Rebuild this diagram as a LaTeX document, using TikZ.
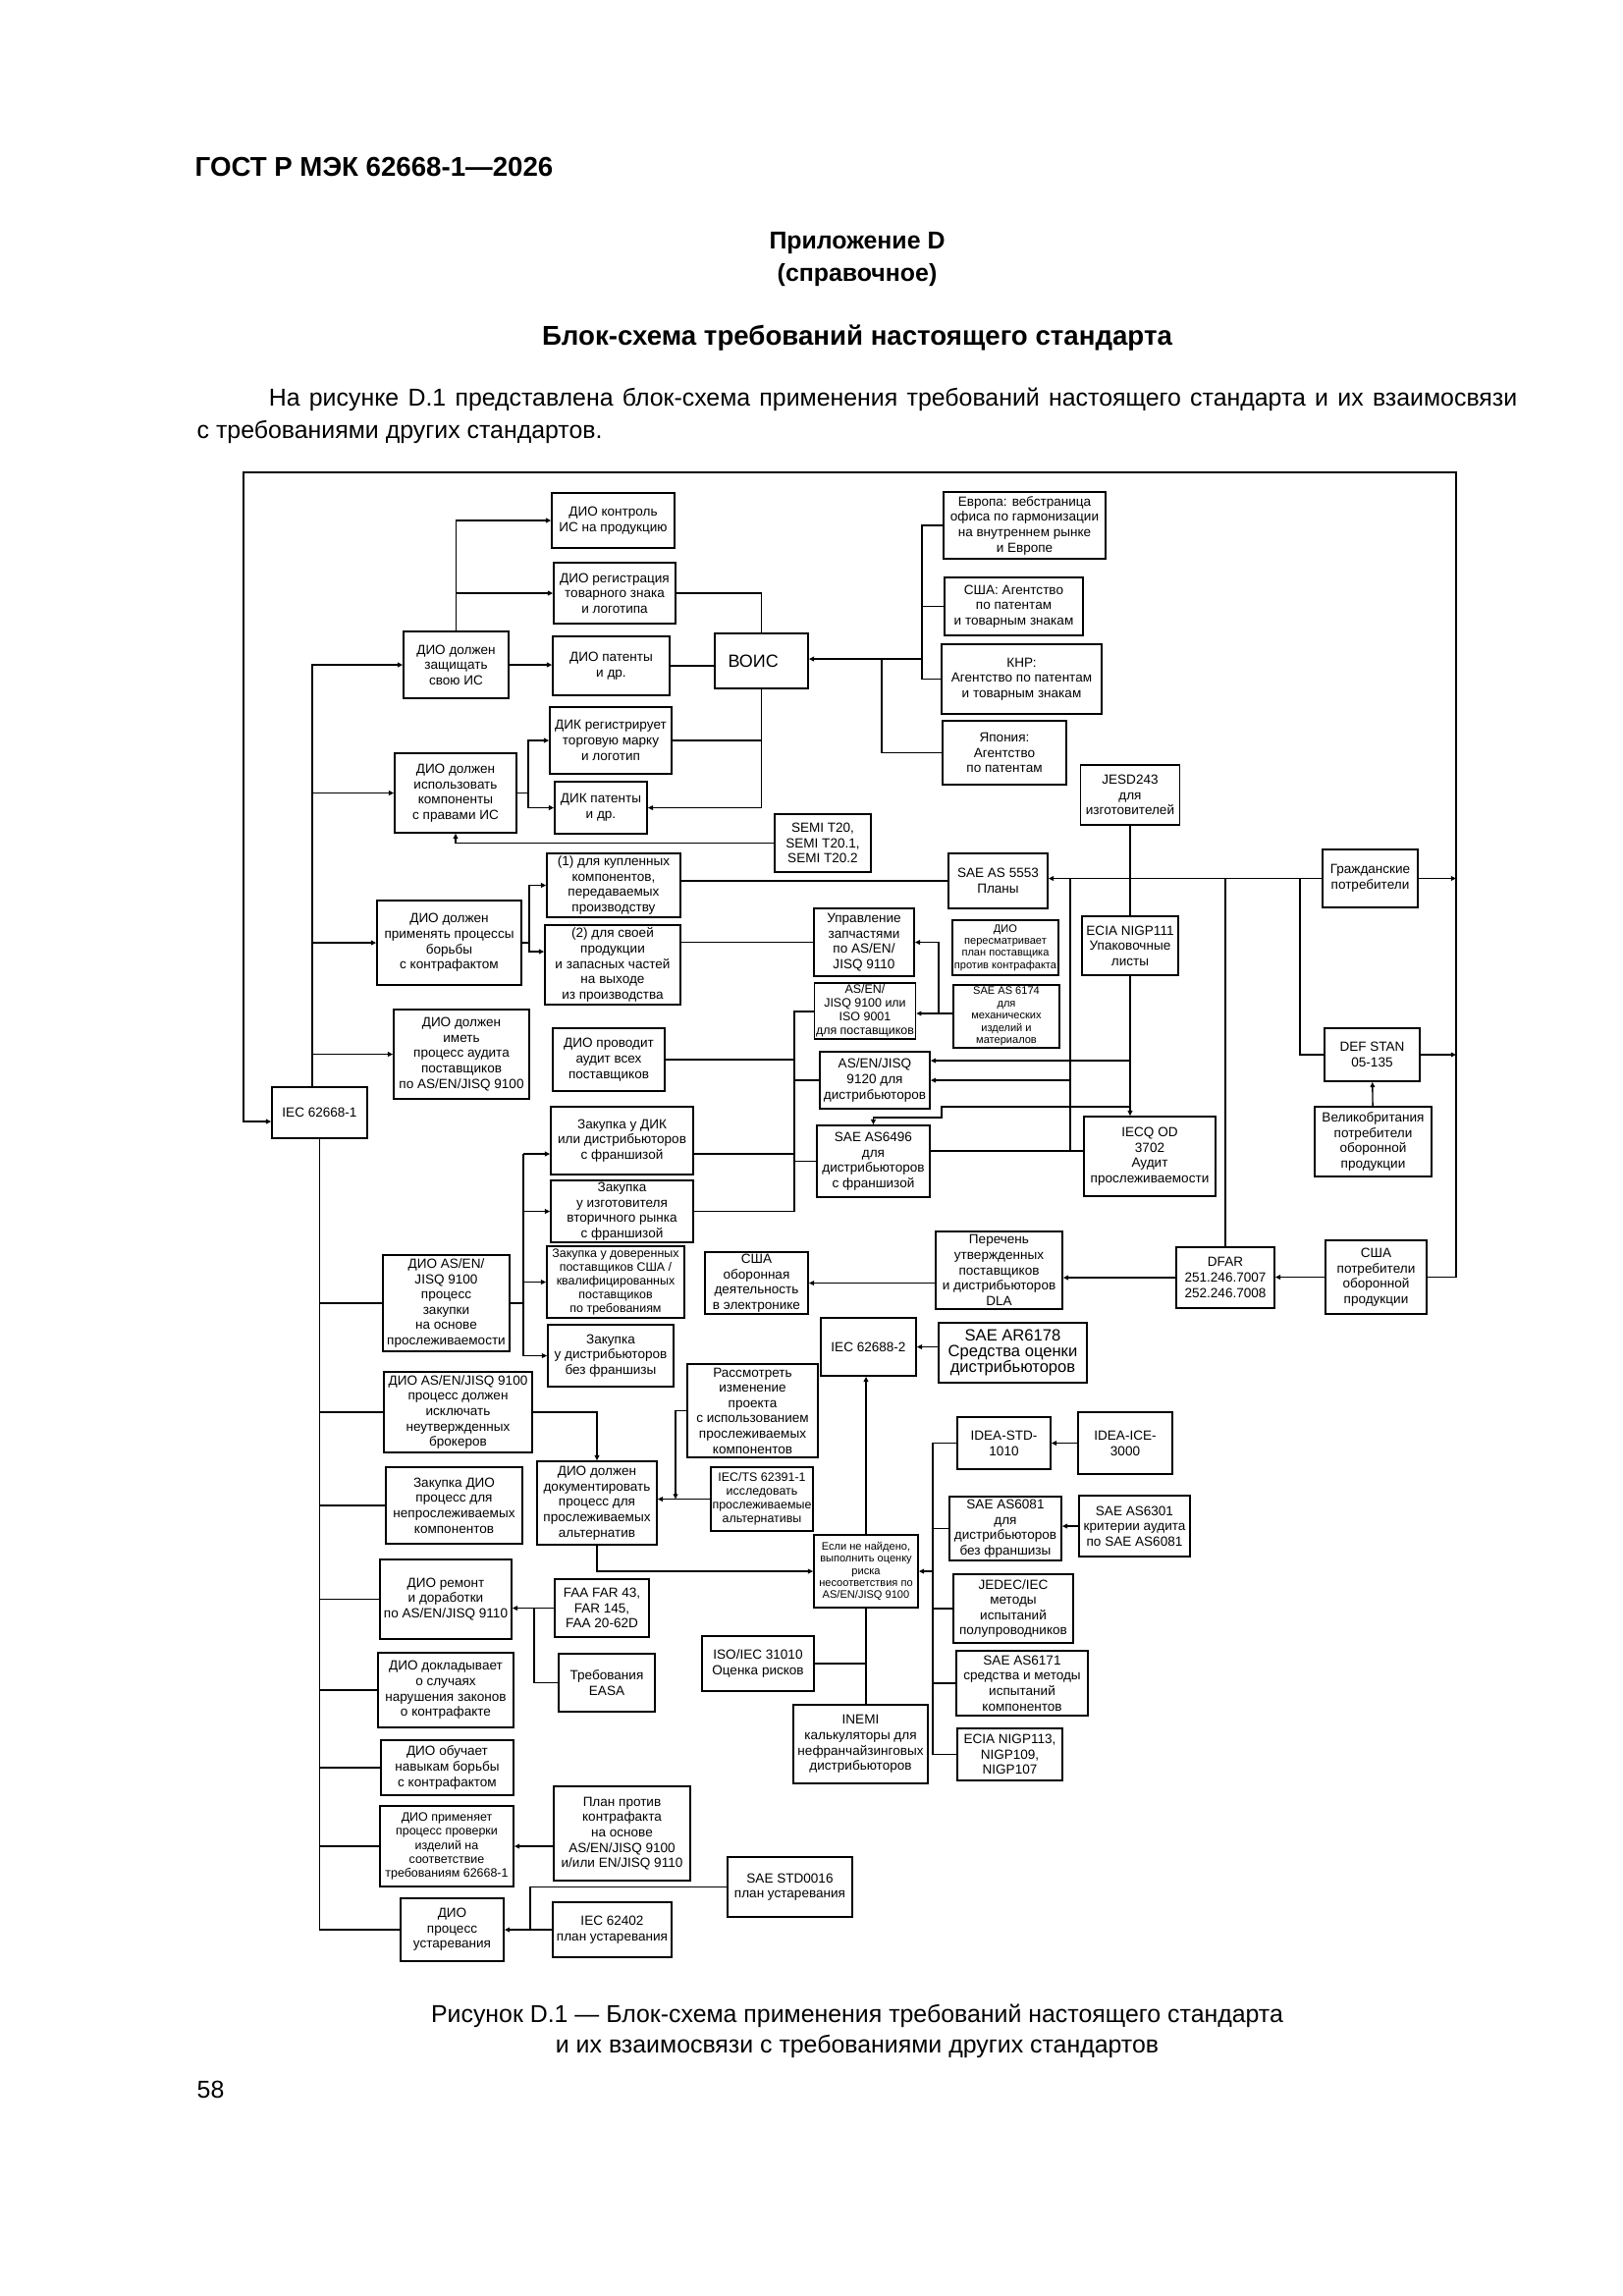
\documentclass[tikz,border=0pt]{standalone}
\usepackage{fontspec}
\setmainfont{Liberation Sans}
\usepackage{tikz}
\usetikzlibrary{positioning,calc,arrows.meta}
\newdimen\px \px=0.012704cm

\begin{document}
\begin{tikzpicture}[x=0.012704cm, y=-0.012704cm,
    box/.style={draw, line width=0.6pt, align=center, inner sep=0.5pt, font=\fontsize{4.9}{5.65}\selectfont},
    sz/.style 2 args={minimum width=#1\px, minimum height=#2\px},
    tinytxt/.style={font=\fontsize{4}{4.5}\selectfont},
    smalltxt/.style={font=\fontsize{4.5}{5.1}\selectfont},
    wire/.style={line width=0.5pt},
    arr/.style={wire, -{Triangle[length=1.9pt,width=1.7pt]}},
    every path/.append style={line width=0.5pt}]
    \useasboundingbox (0,0) rectangle (1653,2338);

    % page text
    \node[anchor=west, inner sep=0pt, font=\fontsize{10}{12}\selectfont\bfseries] (gost) at (198,170) {ГОСТ Р МЭК 62668-1—2026};
    \node[font=\fontsize{9}{11}\selectfont\bfseries] (pril) at (873,248) {Приложение D};
    \node[font=\fontsize{9}{11}\selectfont\bfseries] (sprav) at (873,280) {(справочное)};
    \node[font=\fontsize{10}{12}\selectfont\bfseries] (title) at (873,344) {Блок-схема требований настоящего стандарта};
    \node[anchor=north west, text width=17.09cm, align=justify, inner sep=0pt, font=\fontsize{9}{11.9}\selectfont] (intro) at (200,394)
        {\hspace*{0.93cm}На рисунке D.1 представлена блок-схема применения требований настоящего стандарта и их взаимосвязи\linebreak с~требованиями других стандартов.};
    \node[align=center, font=\fontsize{9}{11.3}\selectfont] (cap) at (873,2068)
        {Рисунок D.1 — Блок-схема применения требований настоящего стандарта\\и их взаимосвязи с требованиями других стандартов};
    \node[anchor=west, inner sep=0pt, font=\fontsize{9}{11}\selectfont] (page) at (200,2128) {58};

    % IP protection
    \node[box, sz={125}{56}] (kontrol) at (624.5,530) {ДИО контроль\\ИС на продукцию};
    \node[box, sz={124}{62}] (registr) at (626,604) {ДИО регистрация\\товарного знака\\и логотипа};
    \node[box, sz={107}{68}] (zashch) at (464.5,677) {ДИО должен\\защищать\\свою ИС};
    \node[box, sz={119}{60}] (patent) at (622.5,678) {ДИО патенты\\и др.};
    \node[box, sz={95}{56}, font=\fontsize{6.5}{7.5}\selectfont] (vois) at (775.5,673) {ВОИС\hspace*{6pt}};
    \node[box, sz={124}{68}] (dikreg) at (622,754) {ДИК регистрирует\\торговую марку\\и логотип};
    \node[box, sz={94}{53}] (dikpat) at (612,822.5) {ДИК патенты\\и др.};
    \node[box, sz={124}{81}] (ispolz) at (464,807.5) {ДИО должен\\использовать\\компоненты\\с правами ИС};
    \node[box, sz={165}{68}] (evropa) at (1043.5,535) {Европа: вебстраница\\офиса по гармонизации\\на внутреннем рынке\\и Европе};
    \node[box, sz={141}{59}] (usapat) at (1032.5,617.5) {США: Агентство\\по патентам\\и товарным знакам};
    \node[box, sz={163}{71}] (knr) at (1040.5,691.5) {КНР:\\Агентство по патентам\\и товарным знакам};
    \node[box, sz={126}{65}] (japan) at (1023,766.5) {Япония:\\Агентство\\по патентам};
    \node[box, sz={98}{59}] (semi) at (838,858.5) {SEMI T20,\\SEMI T20.1,\\SEMI T20.2};

    % counterfeit and suppliers
    \node[box, sz={101}{61}] (jesd) at (1151,809.5) {JESD243\\для\\изготовителей};
    \node[box, sz={136}{65}] (buy1) at (625,901.5) {(1) для купленных\\компонентов,\\передаваемых\\производству};
    \node[box, sz={138}{81}] (buy2) at (624,982.5) {(2) для своей\\продукции\\и запасных частей\\на выходе\\из производства};
    \node[box, sz={147}{86}] (primen) at (457.5,960) {ДИО должен\\применять процессы\\борьбы\\с контрафактом};
    \node[box, sz={138}{91}] (imet) at (470,1073.5) {ДИО должен\\иметь\\процесс аудита\\поставщиков\\по AS/EN/JISQ 9100};
    \node[box, sz={114}{64}] (provod) at (620,1079) {ДИО проводит\\аудит всех\\поставщиков};
    \node[box, sz={97}{52}] (iec1) at (325.5,1133) {IEC 62668-1};
    \node[box, sz={101}{56}] (sae5553) at (1016.5,897) {SAE AS 5553\\Планы};
    \node[box, sz={102}{69}] (zapch) at (880,959.5) {Управление\\запчастями\\по AS/EN/\\JISQ 9110};
    \node[box, sz={100}{57}, smalltxt] (asen) at (881,1029.5) {AS/EN/\\JISQ 9100 или\\ISO 9001\\для поставщиков};
    \node[box, sz={108}{56}, tinytxt] (peresm) at (1024,965) {ДИО\\пересматривает\\план поставщика\\против контрафакта};
    \node[box, sz={108}{64}, tinytxt] (sae6174) at (1025,1035) {SAE AS 6174\\для\\механических\\изделий и\\материалов};
    \node[box, sz={112}{58}] (as9120) at (891,1100) {AS/EN/JISQ\\9120 для\\дистрибьюторов};
    \node[box, sz={115}{73}] (as6496) at (889.5,1182.5) {SAE AS6496\\для\\дистрибьюторов\\с франшизой};
    \node[box, sz={97}{59}] (grazh) at (1395.5,894.5) {Гражданские\\потребители};
    \node[box, sz={98}{60}] (ecia111) at (1151,963) {ECIA NIGP111\\Упаковочные\\листы};
    \node[box, sz={134}{81}] (iecq) at (1171,1177.5) {IECQ OD\\3702\\Аудит\\прослеживаемости};
    \node[box, sz={97}{54}] (defstan) at (1397.5,1074) {DEF STAN\\05-135};
    \node[box, sz={119}{71}] (gb) at (1398.5,1162.5) {Великобритания\\потребители\\оборонной\\продукции};

    % purchasing
    \node[box, sz={145}{69}] (zakDIK) at (633.5,1161.5) {Закупка у ДИК\\или дистрибьюторов\\с франшизой};
    \node[box, sz={145}{63}] (zakVtor) at (633.5,1233.5) {Закупка\\у изготовителя\\вторичного рынка\\с франшизой};
    \node[box, sz={140}{73}, smalltxt] (zakDov) at (627,1305.5) {Закупка у доверенных\\поставщиков США /\\квалифицированных\\поставщиков\\по требованиям};
    \node[box, sz={128}{63}] (zakBez) at (622,1380.5) {Закупка\\у дистрибьюторов\\без франшизы};
    \node[box, sz={129}{98}] (proc9100) at (454.5,1327) {ДИО AS/EN/\\JISQ 9100\\процесс\\закупки\\на основе\\прослеживаемости};
    \node[box, sz={151}{82}] (isklyuch) at (466.5,1438) {ДИО AS/EN/JISQ 9100\\процесс должен\\исключать\\неутвержденных\\брокеров};
    \node[box, sz={139}{78}] (neprosl) at (462.5,1533) {Закупка ДИО\\процесс для\\непрослеживаемых\\компонентов};
    \node[box, sz={122}{85}] (dokum) at (608,1530.5) {ДИО должен\\документировать\\процесс для\\прослеживаемых\\альтернатив};
    \node[box, sz={105}{63}] (usaobor) at (770.5,1306.5) {США\\оборонная\\деятельность\\в электронике};
    \node[box, sz={129}{79}] (perechen) at (1017.5,1293.5) {Перечень\\утвержденных\\поставщиков\\и дистрибьюторов\\DLA};
    \node[box, sz={100}{62}] (dfar) at (1248,1301) {DFAR\\251.246.7007\\252.246.7008};
    \node[box, sz={103}{75}] (usapotr) at (1401.5,1300.5) {США\\потребители\\оборонной\\продукции};

    % alternatives and risk
    \node[box, sz={97}{59}] (iec2) at (884.5,1371.5) {IEC 62688-2};
    \node[box, sz={151}{61}, font=\fontsize{6}{5.9}\selectfont] (ar6178) at (1031.5,1377.5) {SAE AR6178\\Средства оценки\\дистрибьюторов};
    \node[box, sz={133}{95}] (rassm) at (766.5,1436.5) {Рассмотреть\\изменение\\проекта\\с использованием\\прослеживаемых\\компонентов};
    \node[box, sz={104}{65}, smalltxt] (iects) at (776,1526.5) {IEC/TS 62391-1\\исследовать\\прослеживаемые\\альтернативы};
    \node[box, sz={106}{74}, tinytxt] (esli) at (882,1600) {Если не найдено,\\выполнить оценку\\риска\\несоответствия по\\AS/EN/JISQ 9100};
    \node[box, sz={95}{53}] (ideastd) at (1022.5,1469.5) {IDEA-STD-\\1010};
    \node[box, sz={96}{63}] (ideaice) at (1146,1469.5) {IDEA-ICE-\\3000};
    \node[box, sz={114}{65}] (as6081) at (1024,1556.5) {SAE AS6081\\для\\дистрибьюторов\\без франшизы};
    \node[box, sz={113}{62}] (as6301) at (1155.5,1554) {SAE AS6301\\критерии аудита\\по SAE AS6081};
    \node[box, sz={122}{70}] (jedec) at (1032,1638) {JEDEC/IEC\\методы\\испытаний\\полупроводников};
    \node[box, sz={134}{66}] (as6171) at (1041,1714) {SAE AS6171\\средства и методы\\испытаний\\компонентов};
    \node[box, sz={107}{53}] (ecia113) at (1028.5,1786.5) {ECIA NIGP113,\\NIGP109,\\NIGP107};
    \node[box, sz={114}{56}] (iso31010) at (772,1694) {ISO/IEC 31010\\Оценка рисков};
    \node[box, sz={137}{80}] (inemi) at (876.5,1776) {INEMI\\калькуляторы для\\нефранчайзинговых\\дистрибьюторов};

    % repair, reporting, obsolescence
    \node[box, sz={134}{81}] (remont) at (454,1628.5) {ДИО ремонт\\и доработки\\по AS/EN/JISQ 9110};
    \node[box, sz={96}{59}] (faa) at (613,1637.5) {FAA FAR 43,\\FAR 145,\\FAA 20-62D};
    \node[box, sz={98}{59}] (easa) at (618,1713.5) {Требования\\EASA};
    \node[box, sz={138}{76}] (doklad) at (454,1721) {ДИО докладывает\\о случаях\\нарушения законов\\о контрафакте};
    \node[box, sz={135}{56}] (obuch) at (455.5,1800) {ДИО обучает\\навыкам борьбы\\с контрафактом};
    \node[box, sz={136}{82}, smalltxt] (primproc) at (455,1880) {ДИО применяет\\процесс проверки\\изделий на\\соответствие\\требованиям 62668-1};
    \node[box, sz={139}{96}] (plan) at (633.5,1867) {План против\\контрафакта\\на основе\\AS/EN/JISQ 9100\\и/или EN/JISQ 9110};
    \node[box, sz={105}{64}] (ustar) at (460.5,1965) {ДИО\\процесс\\устаревания};
    \node[box, sz={121}{56}] (iec62402) at (623.5,1965) {IEC 62402\\план устаревания};
    \node[box, sz={127}{61}] (std0016) at (804.5,1921.5) {SAE STD0016\\план устаревания};

    % junction points
    \coordinate (trT) at (318,674);
    \coordinate (frTR) at (1483,481);
    \coordinate (frTL) at (248,481);
    \coordinate (frIn) at (248,1142);
    \coordinate (fkI) at (538,807.5);
    \coordinate (fkP) at (539,902);
    \coordinate (fkP2) at (539,969);
    \coordinate (ag) at (939,671);
    \coordinate (jp) at (898,671);
    \coordinate (civA) at (1090,894);
    \coordinate (civB) at (1248,894);
    \coordinate (civC) at (1324,894);
    \coordinate (j6174) at (956,1032);
    \coordinate (v809) at (809,1030);
    \coordinate (j9120) at (1151,1080);
    \coordinate (jIecq) at (1090,1172);
    \coordinate (j6496a) at (1151,1127);
    \coordinate (j6496b) at (959,1138);
    \coordinate (fkZ) at (533,1175);
    \coordinate (jR) at (688,1443);
    \coordinate (jT) at (950,1469);
    \coordinate (jF) at (544,1635);
    \coordinate (jU) at (540,1922);

    % outer loop
    \draw[arr] (usapotr.east) -| (frTR) -- (frTL) -- (frIn) -- (frIn -| iec1.west);
    \draw[arr] (grazh.east) -- (grazh.east -| frTR);
    \draw[arr] (defstan.east) -- (defstan.east -| frTR);

    % upper trunk
    \draw[arr] (trT |- iec1.north) |- (zashch);
    \draw[arr] (trT |- ispolz) -- (ispolz);
    \draw[arr] (trT |- primen) -- (primen);
    \draw[arr] (trT |- imet) -- (imet);

    % IP protection
    \draw[arr] (zashch.north) |- (kontrol);
    \draw[arr] (zashch.north |- registr) -- (registr);
    \draw[arr] (zashch.east) -- (zashch.east -| patent.west);
    \draw (registr.east) -| (vois.north);
    \draw (patent.east) -- (patent.east -| vois.west);
    \draw (dikreg.east) -- (dikreg.east -| vois.south);
    \draw[arr] (vois.south) |- (dikpat);
    \draw (ispolz.east) -- (fkI);
    \draw[arr] (fkI) |- (dikreg);
    \draw[arr] (fkI) |- (dikpat);
    \draw[arr] (semi.west) -| (ispolz.south);
    \draw (evropa.west) -| (ag |- knr) -- (knr.west);
    \draw (usapat.west) -- (usapat.west -| ag);
    \draw[arr] (ag) -- (ag -| vois.east);
    \draw (jp) |- (japan);

    % civil consumers
    \draw[arr] (grazh.west) -- (grazh.west -| sae5553.east);
    \draw (jesd.south) -- (ecia111.north);
    \draw[arr] (ecia111.south) -- (ecia111.south |- iecq.north);
    \draw (civA) -- (jIecq);
    \draw (civB) -- (dfar.north);
    \draw (civC) |- (defstan);
    \draw[arr] (gb) -- (defstan);
    \draw (buy1.east |- sae5553) -- (sae5553);

    % counterfeit
    \draw (primen.east) -- (primen.east -| fkP);
    \draw[arr] (fkP |- primen) |- (buy1);
    \draw[arr] (fkP |- primen) -- (fkP2) -- (fkP2 -| buy2.west);
    \draw (buy2.east |- zapch) -- (zapch);
    \draw[arr] (sae6174.west |- j6174) -- (j6174 -| asen.east);
    \draw[arr] (j6174) |- (zapch);
    \draw (asen.west |- v809) -- (v809) |- (zakVtor);
    \draw (provod) -- (provod -| v809);
    \draw (v809 |- as9120) -- (as9120);
    \draw (v809 |- as6496) -- (as6496);
    \draw (fkZ -| zakDIK.east) -- (fkZ -| v809);
    \draw[arr] (j9120) -- (j9120 -| as9120.east);
    \draw[arr] (civA |- as9120) -- (as9120);
    \draw[arr] (j6496a) -| (j6496b) -| (as6496.north);
    \draw (jIecq -| as6496.east) -- (jIecq -| iecq.west);

    % purchasing
    \draw (proc9100) -- (proc9100 -| fkZ);
    \draw[arr] (fkZ) |- (zakBez);
    \draw[arr] (fkZ) -- (fkZ -| zakDIK.west);
    \draw[arr] (fkZ |- zakVtor) -- (zakVtor);
    \draw[arr] (fkZ |- zakDov) -- (zakDov);

    % lower trunk
    \draw (iec1.south) |- (ustar);
    \foreach \n in {proc9100, isklyuch, neprosl, remont, doklad, obuch, primproc}
        \draw (iec1.south |- \n) -- (\n);

    % alternatives
    \draw[arr] (isklyuch.east) -| (dokum.north);
    \draw[arr] (rassm) -| (jR |- iects);
    \draw[arr] (iects) -- (iects -| dokum.east);
    \draw[arr] (dokum.south) |- (esli);
    \draw[arr] (esli.north) -- (esli.north |- iec2.south);
    \draw[arr] (ar6178.west |- iec2) -- (iec2);
    \draw[arr] (perechen.west |- usaobor) -- (usaobor);
    \draw[arr] (dfar.west) -- (dfar.west -| perechen.east);
    \draw[arr] (usapotr) -- (usapotr -| dfar.east);

    % test methods and risk
    \draw (ideastd) -| (jT |- ecia113) -- (ecia113);
    \draw[arr] (ideaice) -- (ideastd);
    \draw (jT |- as6081) -- (as6081);
    \draw (jT |- jedec) -- (jedec);
    \draw (jT |- as6171) -- (as6171);
    \draw[arr] (jT |- esli) -- (esli);
    \draw[arr] (as6301) -- (as6301 -| as6081.east);
    \draw (esli.south) -- (esli.south |- inemi.north);
    \draw (iso31010) -- (iso31010 -| esli.south);

    % repair and obsolescence
    \draw[arr] (faa) -- (faa -| remont.east);
    \draw (faa -| jF) |- (easa);
    \draw[arr] (plan.west |- primproc) -- (primproc);
    \draw[arr] (iec62402) -- (ustar);
    \draw (std0016) -| (jU |- ustar);
\end{tikzpicture}
\end{document}
